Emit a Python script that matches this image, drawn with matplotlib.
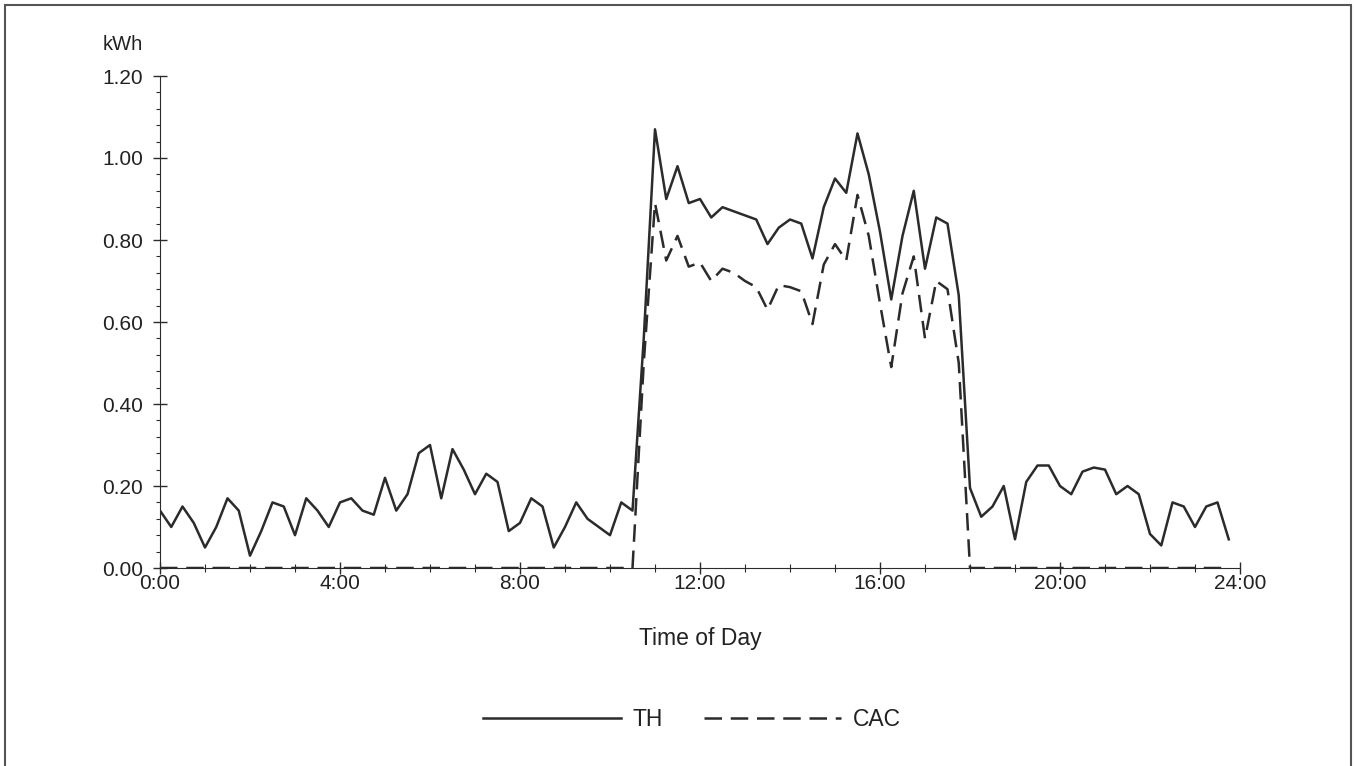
import numpy as np
import matplotlib
matplotlib.use("Agg")
import matplotlib.pyplot as plt
import matplotlib.patches as patches
from matplotlib.ticker import MultipleLocator, FuncFormatter

plt.rcParams['font.family'] = ['Liberation Sans', 'DejaVu Sans']

# 15 minute readings over one day
hours = np.arange(96) * 0.25

th = [0.14, 0.10, 0.15, 0.11, 0.05, 0.10, 0.17, 0.14, 0.03, 0.09,
      0.16, 0.15, 0.08, 0.17, 0.14, 0.10, 0.16, 0.17, 0.14, 0.13,
      0.22, 0.14, 0.18, 0.28, 0.30, 0.17, 0.29, 0.24, 0.18, 0.23,
      0.21, 0.09, 0.11, 0.17, 0.15, 0.05, 0.10, 0.16, 0.12, 0.10,
      0.08, 0.16, 0.14, 0.56, 1.07, 0.90, 0.98, 0.89, 0.90, 0.855,
      0.88, 0.87, 0.86, 0.85, 0.79, 0.83, 0.85, 0.84, 0.755, 0.88,
      0.95, 0.915, 1.06, 0.96, 0.82, 0.655, 0.81, 0.92, 0.73, 0.855,
      0.84, 0.665, 0.195, 0.125, 0.15, 0.20, 0.07, 0.21, 0.25, 0.25,
      0.20, 0.18, 0.235, 0.245, 0.24, 0.18, 0.20, 0.18, 0.083, 0.055,
      0.16, 0.15, 0.10, 0.15, 0.16, 0.07]

cac = [0.0] * 43 + [0.50, 0.89, 0.75, 0.81, 0.735, 0.745, 0.70, 0.73, 0.72,
                    0.70, 0.685, 0.63, 0.69, 0.685, 0.675, 0.595, 0.74, 0.79,
                    0.75, 0.91, 0.81, 0.645, 0.49, 0.67, 0.76, 0.56, 0.70,
                    0.68, 0.50] + [0.0] * 24

x_ticks = [0, 4, 8, 12, 16, 20, 24]
x_labels = ["0:00", "4:00", "8:00", "12:00", "16:00", "20:00", "24:00"]

ink = '#2b2b2b'

fig = plt.figure(figsize=(13.56, 7.66), dpi=100)
ax = fig.add_axes([160 / 1356, 1 - 568 / 766, 1080 / 1356, 492 / 766])

ax.plot(hours, th, color=ink, lw=1.8, label='TH')
ax.plot(hours, cac, color=ink, lw=1.8, dashes=(7, 3.5), label='CAC')

ax.set_xlim(0, 24)
ax.set_ylim(0, 1.2)
ax.spines['top'].set_visible(False)
ax.spines['right'].set_visible(False)
ax.spines['left'].set_color(ink)
ax.spines['bottom'].set_color(ink)

ax.set_xticks(x_ticks)
ax.set_xticklabels(x_labels)
ax.xaxis.set_minor_locator(MultipleLocator(1))
ax.yaxis.set_major_locator(MultipleLocator(0.2))
ax.yaxis.set_minor_locator(MultipleLocator(0.04))
ax.yaxis.set_major_formatter(FuncFormatter(lambda v, p: f"{v:.2f}"))

ax.tick_params(axis='both', which='major', direction='inout', length=8,
               width=1, color=ink, labelsize=15, labelcolor='#222222')
ax.tick_params(axis='x', which='major', pad=0)
ax.tick_params(axis='y', which='major', length=10, pad=7)
ax.tick_params(axis='x', which='minor', direction='inout', length=6,
               width=0.8, color=ink)
ax.tick_params(axis='y', which='minor', direction='out', length=3,
               width=0.8, color=ink)

fig.text(143 / 1356, 1 - 44 / 766, "kWh", ha='right', va='center',
         fontsize=14.5, color='#222222')
fig.text(700 / 1356, 1 - 638 / 766, "Time of Day", ha='center', va='center',
         fontsize=16.5, color='#222222')

fig.legend(loc='center', bbox_to_anchor=(692 / 1356, 1 - 720 / 766), ncol=2,
           frameon=False, fontsize=16.5, handlelength=6, handletextpad=0.5,
           columnspacing=1.8, labelcolor='#222222')

# outer frame of the scanned page
frame = patches.Rectangle((5 / 1356, -0.1), 1346 / 1356, 1.1 - 5 / 766,
                          transform=fig.transFigure, fill=False,
                          edgecolor='#555555', lw=1.5)
fig.patches.append(frame)

plt.savefig("out.png", dpi=100)
